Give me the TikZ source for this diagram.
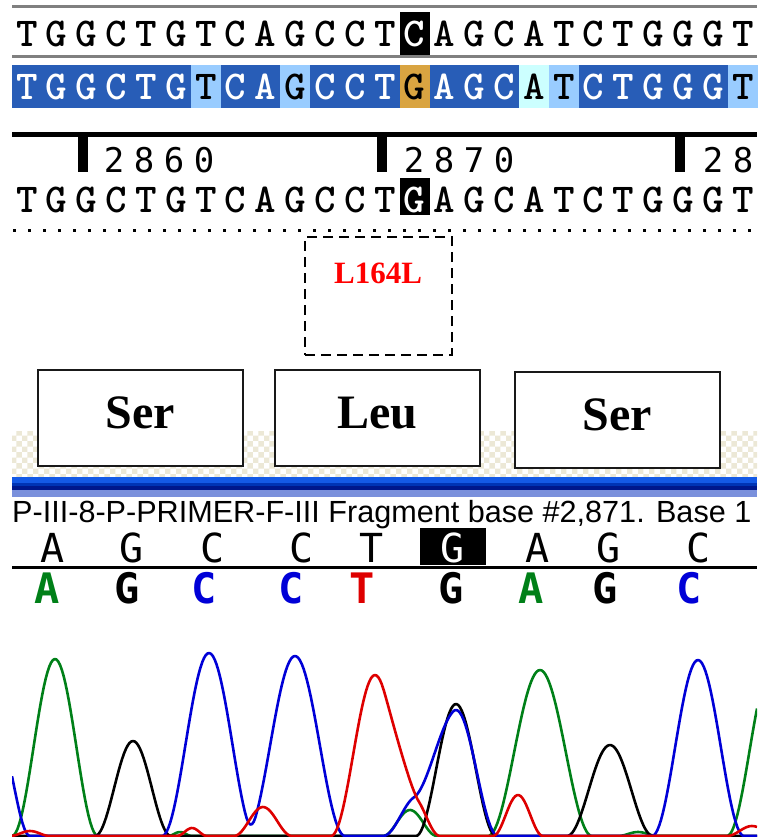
\documentclass[tikz,border=0pt]{standalone}
\usepackage{fontspec}
\setmainfont{Liberation Serif}
\newfontfamily\monosans{DejaVu Sans Mono}
\newfontfamily\hdrfont{Liberation Sans}
\usetikzlibrary{patterns}

\definecolor{rulegray}{RGB}{128,128,128}
\definecolor{seqblue}{RGB}{40,93,183}
\definecolor{seqlight}{RGB}{153,204,255}
\definecolor{seqorange}{RGB}{217,164,65}
\definecolor{seqcyan}{RGB}{204,255,255}
\definecolor{checkbeige}{RGB}{236,232,214}
\definecolor{barA}{RGB}{20,90,230}
\definecolor{barB}{RGB}{0,52,180}
\definecolor{barC}{RGB}{0,24,140}
\definecolor{barD}{RGB}{122,144,220}
\definecolor{tgreen}{RGB}{0,128,24}
\definecolor{tblue}{RGB}{0,0,215}
\definecolor{tred}{RGB}{222,0,0}

\begin{document}
\begin{tikzpicture}[x=1pt,y=-1pt,
  declare function={pk(\q,\m,\hh,\ww)=(abs(\q-\m)<\ww)*\hh*cos((\q-\m)/\ww*90)*cos((\q-\m)/\ww*90);},
  seqch/.style={inner sep=0pt,anchor=base,font=\ttfamily\bfseries\fontsize{41}{41}\selectfont},
  wt/.style={text=white},
  bk/.style={text=black},
  digit/.style={inner sep=0pt,anchor=base,font=\monosans\fontsize{34}{34}\selectfont},
  callbase/.style={inner sep=0pt,anchor=base,font=\monosans\fontsize{40}{40}\selectfont},
  peakbase/.style={inner sep=0pt,anchor=base,font=\monosans\bfseries\fontsize{42}{42}\selectfont},
  aabox/.style={draw=black!90,line width=2pt,fill=white,minimum width=205pt,minimum height=96pt,inner sep=0pt},
  aatext/.style={inner sep=0pt,anchor=base,font=\bfseries\fontsize{48}{48}\selectfont},
  mutbox/.style={draw=black,line width=2.4pt,dash pattern=on 10pt off 6pt,minimum width=147pt,minimum height=118pt,inner sep=0pt},
  trace/.style={line width=2.6pt,line join=round},
]
\useasboundingbox (0,0) rectangle (757,837);

% ---------- reference strand ----------
\draw[rulegray,line width=3pt] (12,7) -- (757,7);
\draw[rulegray,line width=3pt] (12,57) -- (757,57);
\fill[black] (400,12) rectangle (430,55);
\foreach \b/\s [count=\i from 0] in {T/bk,G/bk,G/bk,C/bk,T/bk,G/bk,T/bk,C/bk,A/bk,G/bk,C/bk,C/bk,T/bk,C/wt,A/bk,G/bk,C/bk,A/bk,T/bk,C/bk,T/bk,G/bk,G/bk,G/bk,T/bk}
  \node[seqch,\s] (ra\i) at ({12+29.83*(\i+0.5)},47) {\b};

% ---------- coloured consensus strand ----------
\fill[seqblue] (12,65) rectangle (757,108);
\foreach \i/\c in {6/seqlight,9/seqlight,13/seqorange,17/seqcyan,18/seqlight,24/seqlight}
  \fill[\c] ({12+29.83*\i},65) rectangle ({12+29.83*(\i+1)},108);
\foreach \b/\s [count=\i from 0] in {T/wt,G/wt,G/wt,C/wt,T/wt,G/wt,T/bk,C/wt,A/wt,G/bk,C/wt,C/wt,T/wt,G/bk,A/wt,G/wt,C/wt,A/bk,T/bk,C/wt,T/wt,G/wt,G/wt,G/wt,T/bk}
  \node[seqch,\s] (rb\i) at ({12+29.83*(\i+0.5)},100) {\b};

% ---------- ruler ----------
\draw[black,line width=5pt] (12,134.5) -- (757,134.5);
\fill[black] (78,132) rectangle (88,172);
\fill[black] (377,132) rectangle (387,172);
\fill[black] (675,132) rectangle (685,172);
\foreach \d [count=\k from 0] in {2,8,6,0}
  \node[digit] (da\k) at ({114+30*\k},172) {\d};
\foreach \d [count=\k from 0] in {2,8,7,0}
  \node[digit] (db\k) at ({414+30*\k},172) {\d};
\foreach \d [count=\k from 0] in {2,8}
  \node[digit] (dc\k) at ({713+30*\k},172) {\d};

% ---------- sample strand ----------
\fill[black] (400,178) rectangle (430,215);
\foreach \b/\s [count=\i from 0] in {T/bk,G/bk,G/bk,C/bk,T/bk,G/bk,T/bk,C/bk,A/bk,G/bk,C/bk,C/bk,T/bk,G/wt,A/bk,G/bk,C/bk,A/bk,T/bk,C/bk,T/bk,G/bk,G/bk,G/bk,T/bk}
  \node[seqch,\s] (rc\i) at ({12+29.83*(\i+0.5)},212) {\b};
\draw[black,line width=3pt,dash pattern=on 3pt off 12pt] (13,230) -- (757,230);

% ---------- mutation call ----------
\node[mutbox] (mut) at (378.5,296) {};
\node[inner sep=0pt,anchor=base,text=red,font=\bfseries\fontsize{31}{31}\selectfont] (mutlabel) at (378,283) {L164L};

% ---------- codon boxes ----------
\fill[white] (12,431) rectangle (757,477);
\fill[pattern=checkerboard,pattern color=checkbeige] (12,431) rectangle (757,477);
\node[aabox] (aa1) at (140.5,418) {};
\node[aabox] (aa2) at (377.5,418) {};
\node[aabox] (aa3) at (617.5,420) {};
\node[aatext] (aa1t) at (140.5,428) {Ser};
\node[aatext] (aa2t) at (377.5,428) {Leu};
\node[aatext] (aa3t) at (617.5,430) {Ser};

% ---------- trace viewer header ----------
\fill[barA] (12,477) rectangle (757,483);
\fill[barB] (12,483) rectangle (757,486);
\fill[barC] (12,486) rectangle (757,490);
\fill[barD] (12,490) rectangle (757,497);
\node[inner sep=0pt,anchor=base west,font=\hdrfont\fontsize{30.6}{30.6}\selectfont] (hdr) at (12,522)
  {P-III-8-P-PRIMER-F-III Fragment base \#2,871. Base 1};

\fill[black] (420,528) rectangle (486,565);
\foreach \b/\x/\s [count=\k] in {A/53/bk,G/132/bk,C/213/bk,C/302/bk,T/372/bk,G/453/wt,A/538/bk,G/609/bk,C/699/bk}
  \node[callbase,\s] (cb\k) at (\x,562) {\b};
\draw[black,line width=3pt] (12,567) -- (757,567);
\foreach \b/\x/\c [count=\k] in {A/47/tgreen,G/127/black,C/204/tblue,C/291/tblue,T/362/tred,G/451/black,A/531/tgreen,G/605/black,C/689/tblue}
  \node[peakbase,text=\c] (pb\k) at (\x,603) {\b};

% ---------- chromatogram ----------
\begin{scope}
\clip (12,612) rectangle (757,837);
\draw[trace,tgreen] plot[domain=12:757,samples=420]
  (\x,{836-pk(\x,55,177,43)-pk(\x,410,26,27)-pk(\x,540,166,52)-pk(\x,772,170,45)-pk(\x,638,4,20)-pk(\x,180,4,12)});
\draw[trace,black] plot[domain=12:757,samples=420]
  (\x,{836-pk(\x,133,95,38)-pk(\x,456,132,40)-pk(\x,610,91,43)});
\draw[trace,tblue] plot[domain=12:757,samples=420]
  (\x,{836-pk(\x,-2,100,32)-pk(\x,209,183,47)-pk(\x,295,180,50)-pk(\x,456,126,42)-pk(\x,418,40,35)-pk(\x,698,176,46)});
\draw[trace,tred] plot[domain=12:757,samples=420]
  (\x,{836-pk(\x,375,161,44)-pk(\x,412,40,28)-pk(\x,263,29,29)-pk(\x,518,41,25)-pk(\x,30,5,20)-pk(\x,192,8,15)-pk(\x,752,10,25)});
\end{scope}
\end{tikzpicture}
\end{document}
